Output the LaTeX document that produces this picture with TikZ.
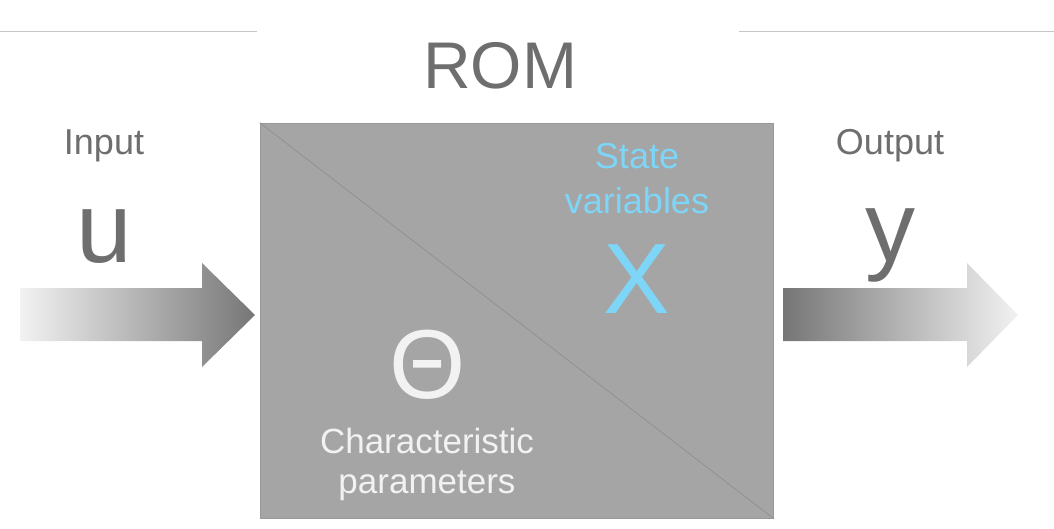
\documentclass[tikz,border=0pt]{standalone}
\usepackage{fontspec}
\setmainfont{Liberation Sans}
\definecolor{romgray}{HTML}{A5A5A5}
\definecolor{labelgray}{HTML}{6E6E6E}
\definecolor{statecyan}{HTML}{7DD6F8}
\definecolor{paramwhite}{HTML}{F2F2F2}
\definecolor{arrowlight}{HTML}{F2F2F2}
\definecolor{arrowdark}{HTML}{767676}
\begin{document}
\begin{tikzpicture}[x=1pt, y=-1pt,
		lbl/.style={anchor=base, inner sep=0pt, text=labelgray},
		small/.style={font=\fontsize{36}{43}\selectfont},
		big/.style={font=\fontsize{100}{110}\selectfont}]
		\useasboundingbox (0,0) rectangle (1054,528);
		% верхние линии
		\draw[gray!45, line width=0.8pt] (0,31) -- (257,31);
		\draw[gray!45, line width=0.8pt] (739,31) -- (1054,31);
		\node[lbl, font=\fontsize{66}{70}\selectfont] (title) at (500,88) {ROM};
		% блок ROM
		\node[draw=gray!80, fill=romgray, line width=0.8pt, inner sep=0pt,
			minimum width=513pt, minimum height=395pt] (rom) at (516.5,320.5) {};
		\draw[black!45, line width=0.6pt] (rom.north west) -- (rom.south east);
		% вход / выход
		\shade[left color=arrowlight, right color=arrowdark]
			(20,288) -- (202,288) -- (202,263) -- (255,315) -- (202,367) -- (202,341) -- (20,341) -- cycle;
		\shade[left color=arrowdark, right color=arrowlight]
			(783,288) -- (967,288) -- (967,263) -- (1018,315) -- (967,367) -- (967,341) -- (783,341) -- cycle;
		\node[lbl, small] (inlbl) at (104,154) {Input};
		\node[lbl, big] (u) at (104,262) {u};
		\node[lbl, small] (outlbl) at (890,154) {Output};
		\node[lbl, big] (y) at (890,261) {y};
		% переменные состояния
		\node[lbl, small, text=statecyan] (state) at (637,168) {State};
		\node[lbl, small, text=statecyan] (vars) at (637,213) {variables};
		\node[lbl, big, text=statecyan] (x) at (637,313) {X};
		% параметры
		\node[lbl, big, text=paramwhite, font=\fontsize{98}{110}\selectfont] (theta) at (428,398) {Θ};
		\node[lbl, text=paramwhite, font=\fontsize{35}{40}\selectfont] (charact) at (427,453) {Characteristic};
		\node[lbl, text=paramwhite, font=\fontsize{35}{40}\selectfont] (params) at (427,493) {parameters};
	\end{tikzpicture}
\end{document}
